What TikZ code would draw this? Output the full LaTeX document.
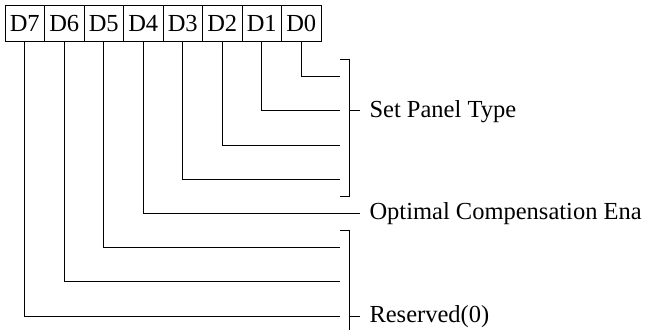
\documentclass[tikz,border=0pt]{standalone}
\usepackage{fontspec}
\setmainfont{Liberation Serif}
\begin{document}
\begin{tikzpicture}[x=1pt,y=-1pt,line width=1pt,
  cell/.style={draw,rectangle,minimum width=39.5pt,minimum height=36pt,inner sep=0pt,font=\fontsize{24.5}{29}\selectfont},
  lbl/.style={anchor=base west,inner sep=0pt,font=\fontsize{24.5}{29}\selectfont},
  wire/.style={line width=1pt}]
\useasboundingbox (0,0) rectangle (645,330);
% register cells
\foreach \n [count=\i from 0] in {D7,D6,D5,D4,D3,D2,D1,D0}{
  \node[cell] (\n) at (24.75+39.5*\i,23.7) {\n};
}
% line end points
\coordinate (e0) at (340,76);
\coordinate (e1) at (340,110.5);
\coordinate (e2) at (340,145);
\coordinate (e3) at (340,179);
\coordinate (e4) at (360,213.3);
\coordinate (e5) at (340,247.7);
\coordinate (e6) at (340,281.7);
\coordinate (e7) at (340,316);
\draw[wire] (D0.south) |- (e0);
\draw[wire] (D1.south) |- (e1);
\draw[wire] (D2.south) |- (e2);
\draw[wire] (D3.south) |- (e3);
\draw[wire] (D4.south) |- (e4);
\draw[wire] (D5.south) |- (e5);
\draw[wire] (D6.south) |- (e6);
\draw[wire] (D7.south) |- (e7);
% brackets
\coordinate (b1t) at (349,59);
\coordinate (b1b) at (349,196);
\coordinate (b1m) at (349,110.5);
\coordinate (b1x) at (360,110.5);
\draw[wire] (340,59) -- (b1t) -- (b1b) -- (340,196);
\draw[wire] (b1m) -- (b1x);
\coordinate (b2t) at (349,230.7);
\coordinate (b2b) at (349,330);
\coordinate (b2m) at (349,316);
\coordinate (b2x) at (360,316);
\draw[wire] (340,230.7) -- (b2t) -- (b2b);
\draw[wire] (b2m) -- (b2x);
% labels
\node[lbl] (t1) at (369,117) {Set Panel Type};
\node[lbl] (t2) at (369,219.5) {Optimal Compensation Ena};
\node[lbl] (t3) at (369,322.3) {Reserved(0)};
\end{tikzpicture}
\end{document}
